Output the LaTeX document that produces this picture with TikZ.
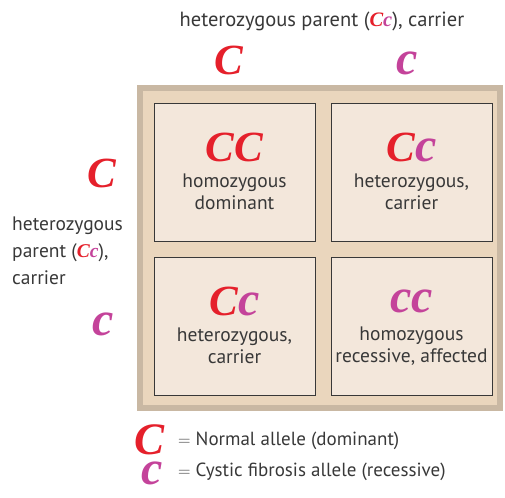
\documentclass[tikz,border=0pt]{standalone}
\usepackage{fontspec}
\setmainfont{PT Sans}
\newfontfamily\allelefont{Liberation Serif}
\definecolor{dom}{HTML}{E5202B}
\definecolor{rec}{HTML}{C4439A}
\definecolor{ink}{HTML}{383838}
\definecolor{tan}{HTML}{EAD6BD}
\definecolor{rim}{HTML}{C9B8A3}
\definecolor{paper}{HTML}{F3E7DB}

\tikzstyle{rimbox}  = [fill=rim]
\tikzstyle{tanbox}  = [fill=tan]
\tikzstyle{cell}    = [draw=ink, fill=paper, line width=0.9pt, minimum width=161pt, minimum height=138pt, inner sep=0pt]
\tikzstyle{lbl}     = [text=ink, font=\fontsize{19.5}{22}\selectfont, align=center, inner sep=0pt]
\tikzstyle{geno}    = [inner sep=0pt, font=\fontsize{43}{43}\allelefont\bfseries\itshape]
\def\Dom{{\color{dom}C}}
\def\Rec{{\color{rec}\fontsize{48}{48}\selectfont c}}
\def\Pair{{\allelefont\bfseries\itshape\color{dom}C\color{rec}c}}

\begin{document}
\begin{tikzpicture}[x=1pt,y=-1pt]
  \useasboundingbox (0,0) rectangle (505,497);
  % frame of the square
  \fill[rimbox] (137,85) rectangle (503,411);
  \fill[tanbox] (143,91) rectangle (497,405);
  % the four offspring
  \node[cell] (cCC) at (234.5,172) {};
  \node[cell] (cCc) at (411.5,172) {};
  \node[cell] (ccC) at (234.5,326) {};
  \node[cell] (ccc) at (411.5,326) {};
  \foreach \n/\gt/\txt in {cCC/{\Dom\Dom}/{homozygous\\dominant},
                          cCc/{\Dom\Rec}/{heterozygous,\\carrier},
                          ccC/{\Dom\Rec}/{heterozygous,\\carrier},
                          ccc/{\Rec\Rec}/{homozygous\\recessive, affected}}
  {
    \node[geno] (\n-g) at ([yshift=25pt]\n.center) {\gt};
    \node[lbl] (\n-t) at ([yshift=-20pt]\n.center) {\txt};
  }
  % parents
  \node[lbl, font=\fontsize{20.5}{22}\selectfont] (dad) at (322,21) {heterozygous parent (\Pair), carrier};
  \node[geno] (dadC) at (229,60) {\Dom};
  \node[geno] (dadc) at (407,63) {\Rec};
  \node[lbl, align=left, anchor=west, font=\fontsize{19.5}{27}\selectfont] (mum) at (12,251)
    {heterozygous\\parent (\Pair),\\carrier};
  \node[geno] (mumC) at (102,173) {\Dom};
  \node[geno] (mumc) at (103,324) {\Rec};
  % key
  \node[geno, text height=30pt, text depth=0pt, font=\fontsize{45}{45}\allelefont\bfseries\itshape] (keyC) at (150,439) {\Dom};
  \node[lbl, anchor=west, font=\fontsize{19}{22}\selectfont] (keyCt) at (178,441) {$=$ Normal allele (dominant)};
  \node[geno, text height=22pt, text depth=0pt] (keyc) at (152,473) {\Rec};
  \node[lbl, anchor=west, font=\fontsize{19}{22}\selectfont] (keyct) at (178,472) {$=$ Cystic fibrosis allele (recessive)};
\end{tikzpicture}
\end{document}
